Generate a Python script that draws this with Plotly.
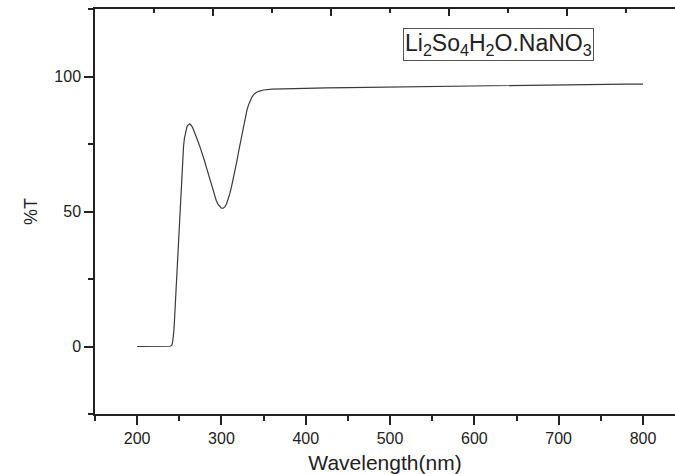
import plotly.graph_objects as go

# UV-Vis transmittance spectrum
wavelength = [200, 210, 220, 230, 236, 239, 241, 242, 243, 244, 246, 248, 250, 252, 253, 254, 255, 256,
              257, 258, 259, 260, 261, 262, 263, 264, 265, 266, 268, 270, 272, 274, 276, 278, 280,
              283, 286, 289, 292, 294, 296, 298, 300, 302, 304, 306, 308, 310, 312, 315,
              318, 321, 324, 326, 328, 330, 332, 334, 336, 338, 340, 344, 350, 360, 380, 400,
              425, 450, 475, 500, 520, 540, 560, 580, 600, 620, 640, 660, 680, 700, 720, 740,
              760, 780, 800]
transmittance = [0.0, 0.0, 0.0, 0.0, 0.0, 0.1, 0.4, 1.5, 4, 8, 20, 33, 46, 58, 65, 70, 74, 77,
                 79, 80.4, 81.3, 81.9, 82.3, 82.4, 82.3, 82.0, 81.5, 80.9, 79.5, 77.8, 76.1, 74.4, 72.6, 70.7, 68.7,
                 65.4, 62.0, 58.7, 55.6, 53.9, 52.6, 51.7, 51.2, 51.2, 51.7, 52.8, 54.5, 56.7, 59.3, 63.5,
                 68.2, 73.2, 78.3, 81.5, 84.5, 87.2, 89.4, 91.0, 92.3, 93.2, 93.8, 94.5, 95.0, 95.3, 95.5, 95.7,
                 95.8, 95.9, 96.0, 96.2, 96.3, 96.4, 96.5, 96.6, 96.7, 96.7, 96.8, 96.9, 96.9, 97.0, 97.0, 97.1,
                 97.1, 97.2, 97.2]

x_ticks = [200, 300, 400, 500, 600, 700, 800]
y_ticks = [0, 50, 100]
sample_label = "Li<sub>2</sub>So<sub>4</sub>H<sub>2</sub>O.NaNO<sub>3</sub>"

axis_color = "#222222"
font_family = "Liberation Sans, Arial, sans-serif"

fig = go.Figure()
fig.add_trace(go.Scatter(
    x=wavelength, y=transmittance, mode="lines",
    line=dict(color="#3a3a3a", width=1.2),
    showlegend=False, hoverinfo="skip",
))
# empty trace carrying the top frame axis
fig.add_trace(go.Scatter(x=[], y=[], xaxis="x2", yaxis="y", showlegend=False))

fig.update_layout(
    width=675, height=474,
    margin=dict(l=95, r=0, t=9, b=60),
    paper_bgcolor="white", plot_bgcolor="white",
    font=dict(family=font_family, color="#222222"),
    xaxis=dict(
        range=[150, 838], tickvals=x_ticks, ticks="outside", ticklen=9, tickwidth=1.5,
        tickcolor=axis_color, showline=True, linecolor=axis_color, linewidth=1.5,
        showgrid=False, zeroline=False, tickfont=dict(size=16),
        minor=dict(dtick=50, tick0=150, ticks="outside", ticklen=5, tickwidth=1.5,
                   tickcolor=axis_color),
        title=dict(text="Wavelength(nm)", font=dict(size=21), standoff=10),
    ),
    xaxis2=dict(
        overlaying="x", side="top", range=[0, 580 / 59], tickvals=[2, 4, 6, 8],
        showticklabels=False, ticks="inside", ticklen=7, tickwidth=1.5, tickcolor=axis_color,
        showline=True, linecolor=axis_color, linewidth=1.5, showgrid=False, zeroline=False,
        minor=dict(dtick=1, tick0=0, ticks="inside", ticklen=4, tickwidth=1.5,
                   tickcolor=axis_color),
    ),
    yaxis=dict(
        range=[-25, 125], tickvals=y_ticks, ticks="outside", ticklen=9, tickwidth=1.5,
        tickcolor=axis_color, showline=True, linecolor=axis_color, linewidth=1.5,
        showgrid=False, zeroline=False, tickfont=dict(size=16),
        minor=dict(dtick=25, tick0=0, ticks="outside", ticklen=5, tickwidth=1.5,
                   tickcolor=axis_color),
        title=dict(text="%T", font=dict(size=18), standoff=12),
    ),
    annotations=[dict(
        xref="paper", yref="paper", x=0.696, y=0.912, xanchor="center", yanchor="middle",
        text=sample_label, showarrow=False, font=dict(size=23, color="#222222"),
        bordercolor="#555555", borderwidth=1, borderpad=1, bgcolor="white",
    )],
)

fig.write_html("out.html")
